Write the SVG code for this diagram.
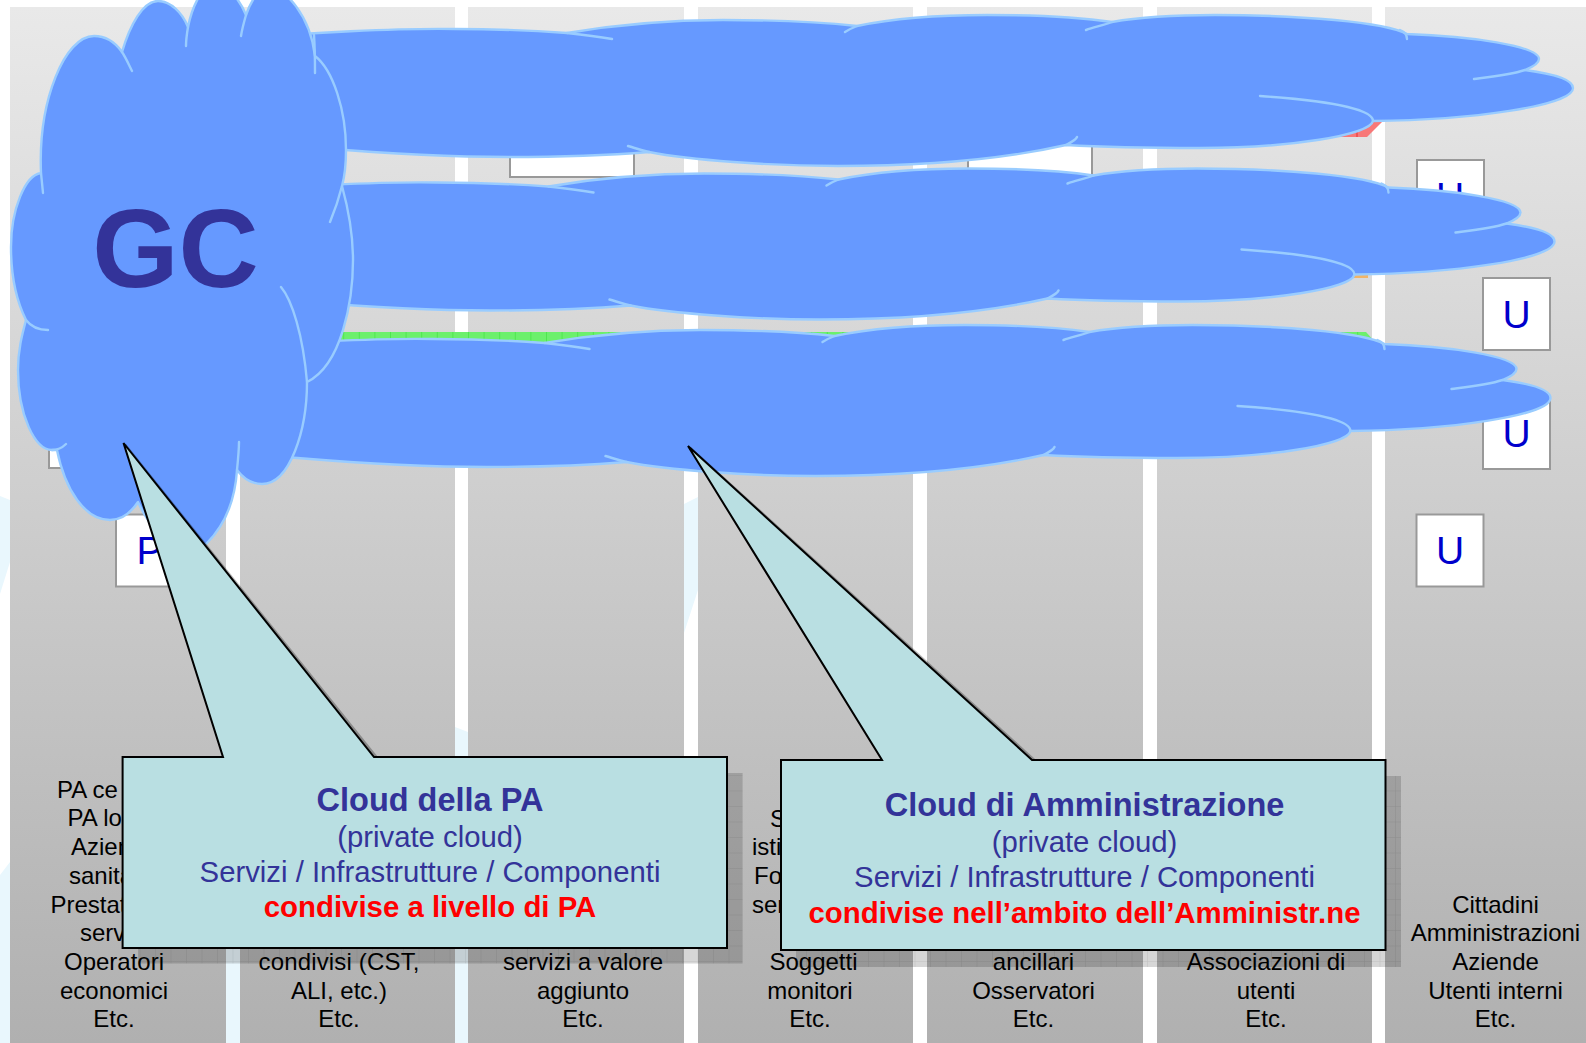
<svg xmlns="http://www.w3.org/2000/svg" xmlns:xlink="http://www.w3.org/1999/xlink" width="1586" height="1043" viewBox="0 0 1586 1043">
<style>
text{font-family:"Liberation Sans",Arial,sans-serif}
.lbl{font-size:24px;fill:#000;text-anchor:middle}
.lbs{font-size:24px;fill:#000;text-anchor:start}
.box{fill:#fff;stroke:#999;stroke-width:2}
.bt{font-size:39px;fill:#0000cc;text-anchor:middle}
.cf{fill:#6699ff;stroke:#99ccff;stroke-width:2.4;stroke-linejoin:round}
.ct{fill:none;stroke:#99ccff;stroke-width:2.4;stroke-linecap:round}
.col{fill:url(#colg)}
.faint{fill:#e9f7fd}
.shadow{fill:url(#shg)}
.call{fill:#b9dfe2;stroke:#000;stroke-width:2;stroke-linejoin:miter}
.tail{fill:none;stroke:#000;stroke-opacity:.28;stroke-width:3}
.t1{font-size:32.5px;font-weight:bold;fill:#333399;text-anchor:middle}
.t2{font-size:29.3px;fill:#333399;text-anchor:middle}
.t3{font-size:29.4px;font-weight:bold;fill:#ff0000;text-anchor:middle}
</style>
<defs>
<linearGradient id="colg" gradientUnits="userSpaceOnUse" x1="0" y1="7" x2="0" y2="1043">
<stop offset="0" stop-color="#e9e9e9"/><stop offset="1" stop-color="#b0b0b0"/>
</linearGradient>
<pattern id="shg" patternUnits="userSpaceOnUse" width="15.5" height="15.5">
<rect width="15.5" height="15.5" fill="#000" fill-opacity=".16"/>
<path d="M0,0H15.5M0,0V15.5" stroke="#000" stroke-opacity=".1" stroke-width="1" fill="none"/>
</pattern>
<pattern id="barg" patternUnits="userSpaceOnUse" width="15.6" height="30">
<rect width="15.6" height="30" fill="#6cf06c"/>
<path d="M0,0V30" stroke="#30e030" stroke-width="1" fill="none"/>
</pattern>
<g id="row">
<path class="cf" d="M250,38C300,33 400,28 455,29C500,29 540,31 567,33C620,24 670,20 723,20C770,20 820,22 857,26C890,19 940,15 987,15C1040,15 1085,18 1112,22C1140,17 1180,15 1215,15C1300,15 1385,22 1407,34C1470,36 1539,46 1539,59C1539,64 1530,68 1525,70C1555,74 1573,80 1573,88C1573,106 1470,120 1373,121C1370,135 1290,148 1200,148C1160,148 1100,147 1066,145C1000,160 920,166 838,166C770,166 690,160 649,152C600,156 550,157 509,157C440,157 380,153 320,148L250,143Z"/>
<path class="ct" d="M567,33C585,35 600,37 612,39M857,26C852,28 848,30 845,32M1112,22C1104,25 1095,27 1086,30M1400,30C1405,32 1407,35 1407,39M1525,70C1510,75 1490,77 1474,79M1373,121C1373,108 1320,100 1260,96M1066,145C1072,142 1076,140 1077,137M649,152C640,150 635,148 628,146"/>
</g>
</defs>

<g id="background">
<path class="faint" d="M0,496L10,500V562L0,594ZM0,875L10,862V1043H0ZM226,940H240V1043H226ZM455,727L468,732V1043H455ZM684,504L698,497V590L684,633Z"/>
<rect class="col" x="10" y="7" width="216" height="1036"/>
<rect class="col" x="240" y="7" width="215" height="1036"/>
<rect class="col" x="468" y="7" width="216" height="1036"/>
<rect class="col" x="698" y="7" width="215" height="1036"/>
<rect class="col" x="927" y="7" width="216" height="1036"/>
<rect class="col" x="1157" y="7" width="215" height="1036"/>
<rect class="col" x="1385" y="7" width="201" height="1036"/>
</g>

<g id="bars">
<path id="bar-red" fill="#f87878" d="M1200,120H1384L1367,137H1200Z"/>
<path d="M1357,120V137" stroke="#e83030" stroke-width="1"/>
<path id="bar-orange" fill="#f0b468" d="M1200,265H1368V278H1200Z"/>
<path id="bar-green" fill="url(#barg)" d="M330,332H1366L1376,343H330Z"/>
</g>

<g id="labels">
<g id="col1-label">
<text class="lbs" x="57" y="798">PA ce</text>
<text class="lbs" x="67.6" y="826">PA lo</text>
<text class="lbs" x="71" y="855">Azien</text>
<text class="lbs" x="69" y="884">sanita</text>
<text class="lbs" x="50.5" y="913">Prestat</text>
<text class="lbs" x="80" y="941">serv</text>
<text class="lbl" x="114" y="970">Operatori</text>
<text class="lbl" x="114" y="998.5">economici</text>
<text class="lbl" x="114" y="1027">Etc.</text>
</g>
<g id="col2-label">
<text class="lbl" x="339" y="970" textLength="161">condivisi (CST,</text>
<text class="lbl" x="339" y="998.5">ALI, etc.)</text>
<text class="lbl" x="339" y="1027">Etc.</text>
</g>
<g id="col3-label">
<text class="lbl" x="583" y="970">servizi a valore</text>
<text class="lbl" x="583" y="998.5">aggiunto</text>
<text class="lbl" x="583" y="1027">Etc.</text>
</g>
<g id="col4-label">
<text class="lbs" x="770" y="827">S</text>
<text class="lbs" x="752" y="855">isti</text>
<text class="lbs" x="754" y="884">Fo</text>
<text class="lbs" x="752" y="913">ser</text>
<text class="lbl" x="813.5" y="970">Soggetti</text>
<text class="lbl" x="810" y="998.5">monitori</text>
<text class="lbl" x="810" y="1027">Etc.</text>
</g>
<g id="col5-label">
<text class="lbl" x="1033.5" y="970">ancillari</text>
<text class="lbl" x="1033.5" y="998.5">Osservatori</text>
<text class="lbl" x="1033.5" y="1027">Etc.</text>
</g>
<g id="col6-label">
<text class="lbl" x="1266" y="970">Associazioni di</text>
<text class="lbl" x="1266" y="998.5">utenti</text>
<text class="lbl" x="1266" y="1027">Etc.</text>
</g>
<g id="col7-label">
<text class="lbl" x="1495.5" y="913">Cittadini</text>
<text class="lbl" x="1495.5" y="941">Amministrazioni</text>
<text class="lbl" x="1495.5" y="970">Aziende</text>
<text class="lbl" x="1495.5" y="998.5">Utenti interni</text>
<text class="lbl" x="1495.5" y="1027">Etc.</text>
</g>
</g>

<g id="box-top-1"><rect class="box" x="510" y="105" width="124" height="72"/></g>
<g id="box-top-2"><rect class="box" x="968" y="105" width="124" height="72"/></g>
<g id="box-u1"><rect class="box" x="1417" y="160" width="67" height="72"/><text class="bt" x="1450" y="210">U</text></g>
<g id="box-u2"><rect class="box" x="1483" y="278" width="67" height="72"/><text class="bt" x="1516.5" y="328">U</text></g>
<g id="box-u3"><rect class="box" x="1483" y="397" width="67" height="72"/><text class="bt" x="1516.5" y="447">U</text></g>
<g id="box-u4"><rect class="box" x="1416.5" y="514.5" width="67" height="72"/><text class="bt" x="1450" y="564">U</text></g>
<g id="box-left"><rect class="box" x="49" y="396" width="67" height="72"/></g>
<g id="box-p"><rect class="box" x="116" y="514.5" width="67" height="72"/><text class="bt" x="149.5" y="564">P</text></g>

<g id="cloud-row-1"><use xlink:href="#row" href="#row"/></g>
<g id="cloud-row-2"><use xlink:href="#row" href="#row" transform="translate(-18.5,153.5)"/></g>
<g id="cloud-row-3"><use xlink:href="#row" href="#row" transform="translate(-22.5,310)"/></g>

<g id="cloud-gc">
<path class="cf" d="M41,173C38,100 65,36 94,36C105,36 115,42 122,52C130,25 143,1 158,1C170,1 182,12 188,27C191,12 200,-15 215,-15C228,-15 240,0 246,15C252,-2 260,-12 270,-12C285,-12 310,15 315,56C333,70 346,110 346,150C346,163 345,175 342,186C350,215 353,240 353,260C353,300 342,365 307,382C307,430 290,484 262,484C252,484 243,478 237,470C235,500 225,525 207,543C195,555 160,550 138,502C130,514 120,520 110,520C85,520 65,490 57,450C55,450 54,450 52,450C35,450 18,415 18,370C18,350 22,335 26,320C16,300 11,275 11,247C11,210 25,175 41,173Z"/>
<path class="ct" d="M41,173L43,193M122,52C126,58 129,65 132,71M188,27C187,33 186,40 186,46M246,15C244,22 242,29 241,36M314,35C315,50 315,60 315,73M342,186C339,198 335,210 330,222M281,287C292,300 303,335 307,382M237,470C238,460 239,450 239,442M52,450C57,450 62,448 66,444M26,320C32,328 40,330 48,330"/>
<text x="175.5" y="287" font-size="111" font-weight="bold" fill="#333399" text-anchor="middle">GC</text>
</g>

<g id="callout-pa">
<rect class="shadow" x="138" y="773" width="604.6" height="190.5"/>
<path class="tail" d="M125,445L376,757"/>
<path class="call" d="M123.5,443L374,757H727V948H122.6V757H223Z"/>
<text class="t1" x="430" y="811">Cloud della PA</text>
<text class="t2" x="430" y="847">(private cloud)</text>
<text class="t2" x="430" y="882">Servizi / Infrastrutture / Componenti</text>
<text class="t3" x="430" y="917">condivise a livello di PA</text>
</g>

<g id="callout-amm">
<rect class="shadow" x="796" y="776" width="605" height="191"/>
<path class="tail" d="M690,448L1034,760"/>
<path class="call" d="M688,446L1032,760H1385.5V950H781V760H882Z"/>
<text class="t1" x="1084.5" y="816">Cloud di Amministrazione</text>
<text class="t2" x="1084.5" y="852">(private cloud)</text>
<text class="t2" x="1084.5" y="887">Servizi / Infrastrutture / Componenti</text>
<text class="t3" x="1084.5" y="923">condivise nell’ambito dell’Amministr.ne</text>
</g>
</svg>
